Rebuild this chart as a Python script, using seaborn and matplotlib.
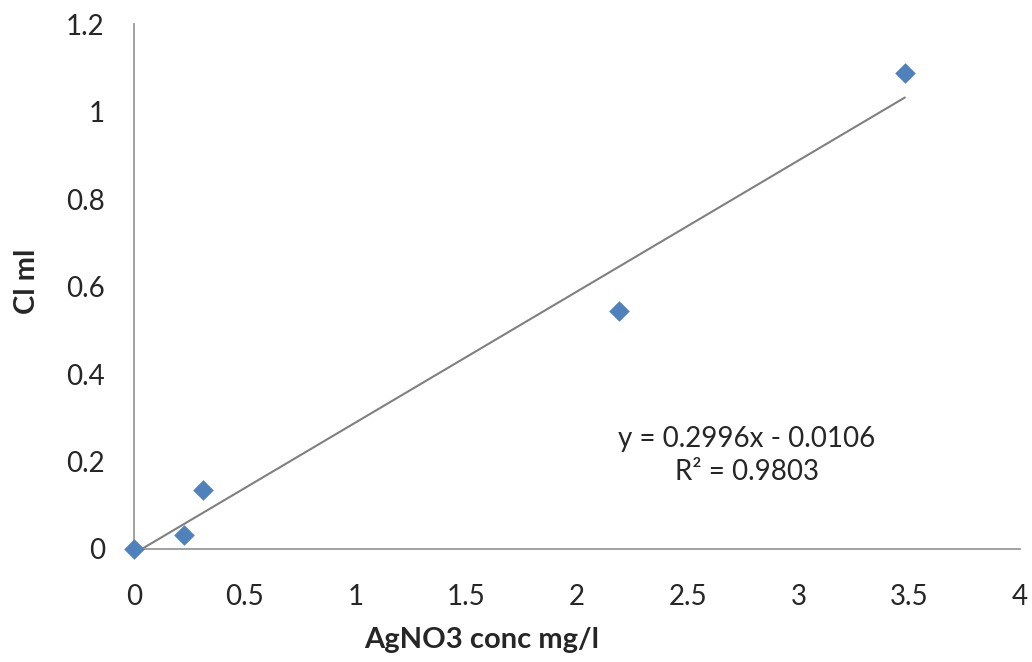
import numpy as np
import pandas as pd
import matplotlib
matplotlib.use("Agg")
import matplotlib.pyplot as plt
import seaborn as sns

# Calibration data
agno3_conc = [0.0, 0.226, 0.31, 2.19, 3.48]
cl_ml = [0.0, 0.032, 0.135, 0.544, 1.088]

# Linear trendline reported for the series
slope = 0.2996
intercept = -0.0106
r_squared = 0.9803

x_ticks = [0, 0.5, 1, 1.5, 2, 2.5, 3, 3.5, 4]
y_ticks = [0, 0.2, 0.4, 0.6, 0.8, 1, 1.2]
x_tick_labels = ["0", "0.5", "1", "1.5", "2", "2.5", "3", "3.5", "4"]
y_tick_labels = ["0", "0.2", "0.4", "0.6", "0.8", "1", "1.2"]

sns.set_style("white")
plt.rcParams["font.family"] = ["Lato", "DejaVu Sans"]

df = pd.DataFrame({"conc": agno3_conc, "cl": cl_ml})

fig = plt.figure(figsize=(10.32, 6.62), dpi=100)
ax = fig.add_axes([0.1298, 0.1707, 0.8586, 0.793])

# Trendline across the data range
xs = np.array([min(agno3_conc), max(agno3_conc)])
ax.plot(xs, slope * xs + intercept, color="#808080", lw=1.5, zorder=2)

sns.scatterplot(data=df, x="conc", y="cl", marker="D", s=110,
                color="#4F81BD", edgecolor="#4F81BD", linewidth=0,
                ax=ax, zorder=3, clip_on=False)

ax.set_xlim(0, 4)
ax.set_ylim(0, 1.2)
ax.set_xticks(x_ticks)
ax.set_xticklabels(x_tick_labels)
ax.set_yticks(y_ticks)
ax.set_yticklabels(y_tick_labels)
ax.tick_params(axis="both", length=0, labelsize=20, colors="#262626")
ax.tick_params(axis="y", pad=21)
ax.tick_params(axis="x", pad=25)

for side in ["top", "right"]:
    ax.spines[side].set_visible(False)
for side in ["left", "bottom"]:
    ax.spines[side].set_color("#9A9A9A")
    ax.spines[side].set_linewidth(1.3)

ax.set_xlabel("AgNO3 conc mg/l", fontsize=21, fontweight="bold", color="#262626")
ax.set_ylabel("Cl ml", fontsize=21, fontweight="bold", color="#262626")
ax.xaxis.set_label_coords(0.392, -0.148)
ax.yaxis.set_label_coords(-0.106, 0.51)

ax.text(2.767, 0.213, f"y = {slope}x - {abs(intercept)}\nR² = {r_squared}",
        ha="center", va="center", fontsize=20, color="#262626",
        linespacing=1.35)

fig.savefig("out.png", dpi=100, facecolor="white")
